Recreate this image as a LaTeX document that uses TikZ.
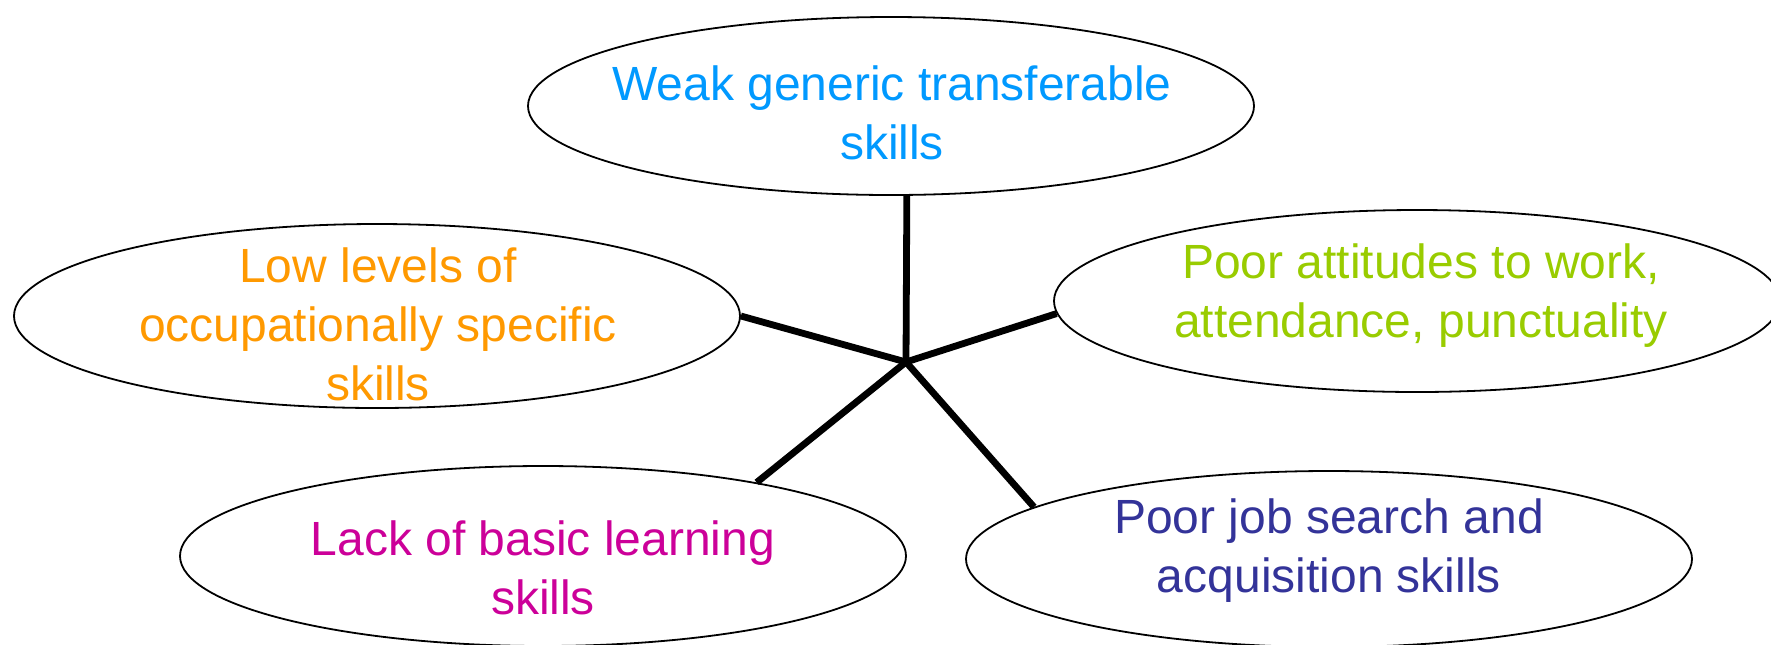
\documentclass[tikz,border=0pt]{standalone}
\usepackage{fontspec}
\setmainfont{Liberation Sans}
\usetikzlibrary{shapes.geometric}
\definecolor{tBlue}{RGB}{0,153,255}
\definecolor{tOrange}{RGB}{255,153,0}
\definecolor{tGreen}{RGB}{153,204,0}
\definecolor{tMagenta}{RGB}{204,0,153}
\definecolor{tNavy}{RGB}{51,51,153}
\begin{document}
\begin{tikzpicture}[x=0.5pt,y=-0.5pt,
  bubble/.style={ellipse, draw=black, line width=0.9pt, fill=white, inner sep=0pt,
                 minimum width=363pt, minimum height=#1},
  bubble/.default=180pt,
  txt/.style={align=center, inner sep=0pt, font=\fontsize{24}{29.5}\selectfont},
  spoke/.style={line width=3.4pt}]
\useasboundingbox[fill=white] (0,0) rectangle (1771,644);

% ellipses
\node[bubble=89pt] (top) at (891,106) {};
\node[bubble=92pt] (left) at (377,316) {};
\node[bubble=91pt] (right) at (1417,301) {};
\node[bubble=90pt] (bl) at (543,556) {};
\node[bubble=88pt] (br) at (1329,559) {};

% labels
\node[txt, text=tBlue] (ttop) at (892,113) {Weak generic transferable\\skills};
\node[txt, text=tOrange] (tleft) at (378,324) {Low levels of\\occupationally specific\\skills};
\node[txt, text=tGreen] (tright) at (1421,296) {Poor attitudes to work,\\attendance, punctuality};
\node[txt, text=tMagenta] (tbl) at (543,568) {Lack of basic learning\\skills};
\node[txt, text=tNavy] (tbr) at (1329,551) {Poor job search and\\acquisition skills};

% spokes from the hub
\coordinate (hub) at (906,362);
\draw[spoke] (hub) -- (top.-80);
\draw[spoke] (hub) -- (left.east);
\draw[spoke] (hub) -- (right.182.5);
\draw[spoke] (hub) -- (bl.19);
\draw[spoke] (hub) -- (br.170);
\end{tikzpicture}
\end{document}
